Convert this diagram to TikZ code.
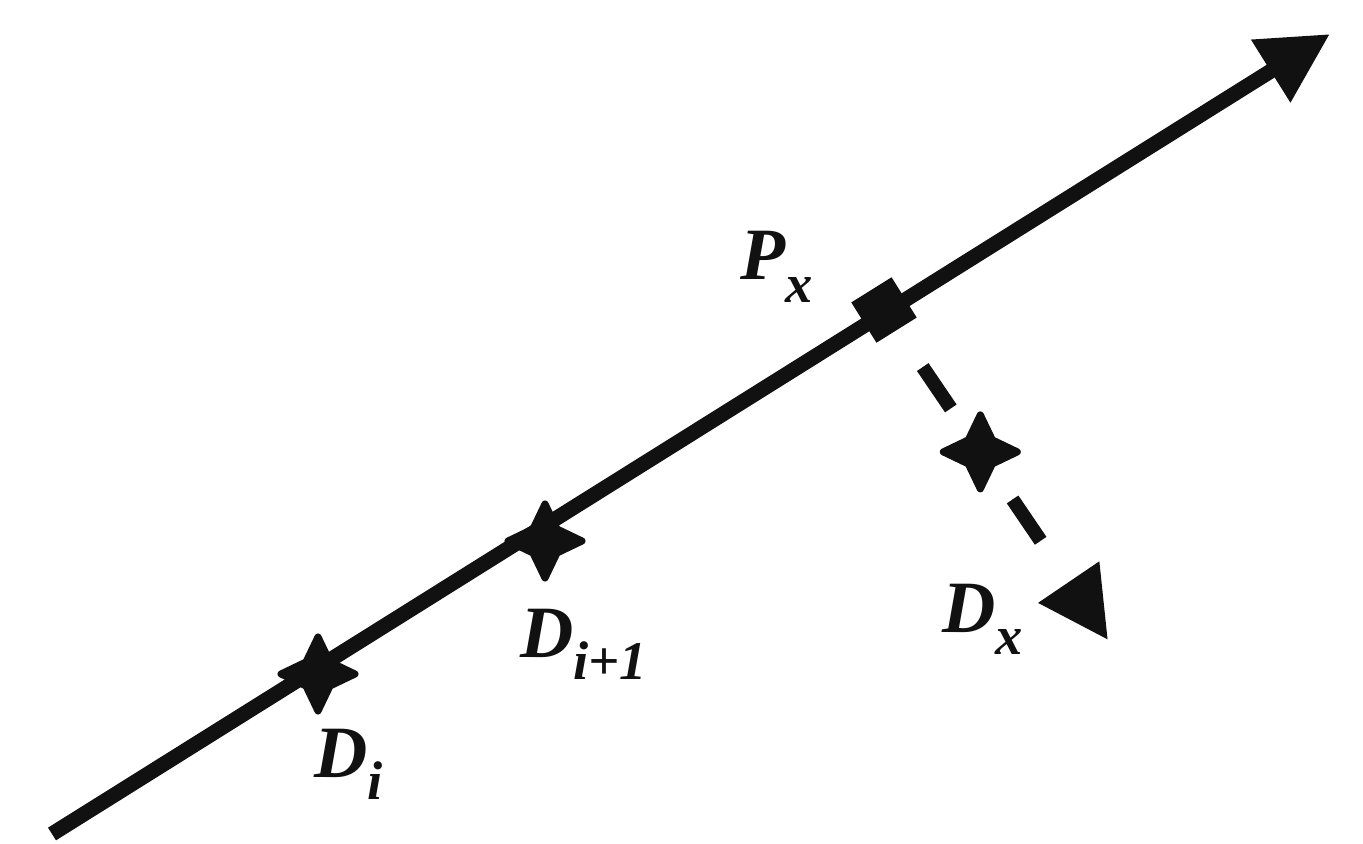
\documentclass[tikz,border=0pt]{standalone}
\usepackage{fontspec}
\setmainfont{Liberation Serif}
\usetikzlibrary{arrows.meta}
\definecolor{sketchInk}{HTML}{111111}
\newcommand{\lowsub}[1]{\raisebox{-13pt}{\fontsize{31}{33}\selectfont #1}}

\begin{document}
\begin{tikzpicture}[x=0.02cm,y=-0.02cm,text=sketchInk,
  font=\bfseries\itshape\fontsize{42}{48}\selectfont,
  mainline/.style={draw=sketchInk,line width=0.3cm,-{Triangle[length=1.4cm,width=1.4cm]}},
  dashline/.style={mainline,line width=0.28cm,dash pattern=on 1cm off 2.2cm,dash phase=1.82cm},
  divpoint/.style={fill=sketchInk,draw=sketchInk,line width=4pt,line join=round},
  pxsquare/.style={rectangle,minimum size=0.95cm,inner sep=0pt,fill=sketchInk,rotate=32},
  lbl/.style={anchor=base west,inner sep=0pt}]
  \fill[white] (0,0) rectangle (1363,844);
  \path[use as bounding box] (0,0) rectangle (1363,844);

  % the line through the division points
  \coordinate (lineStart) at (52,834);
  \coordinate (lineEnd) at (1330,34);
  \coordinate (Di) at (318,674);
  \coordinate (Dinext) at (545,541);
  \draw[mainline] (lineStart) -- (lineEnd);
  \node[pxsquare] (Px) at (884,310) {};

  % guessed direction from Px
  \coordinate (DxTip) at (1108,640);
  \draw[dashline] (Px.center) -- coordinate[pos=0.43] (guess) (DxTip);

  % four-pointed marks
  \foreach \c in {Di,Dinext,guess}
    \filldraw[divpoint,shift={(\c)}] (37,0) -- (12,-12) -- (0,-37) -- (-12,-12)
      -- (-37,0) -- (-12,12) -- (0,37) -- (12,12) -- cycle;

  \node[lbl] (PxLabel) at (740,280) {P\lowsub{x}};
  \node[lbl] (DiLabel) at (314,777) {D\lowsub{i}};
  \node[lbl] (DinextLabel) at (520,657) {D\lowsub{i+1}};
  \node[lbl] (DxLabel) at (942,632) {D\lowsub{x}};
\end{tikzpicture}
\end{document}
